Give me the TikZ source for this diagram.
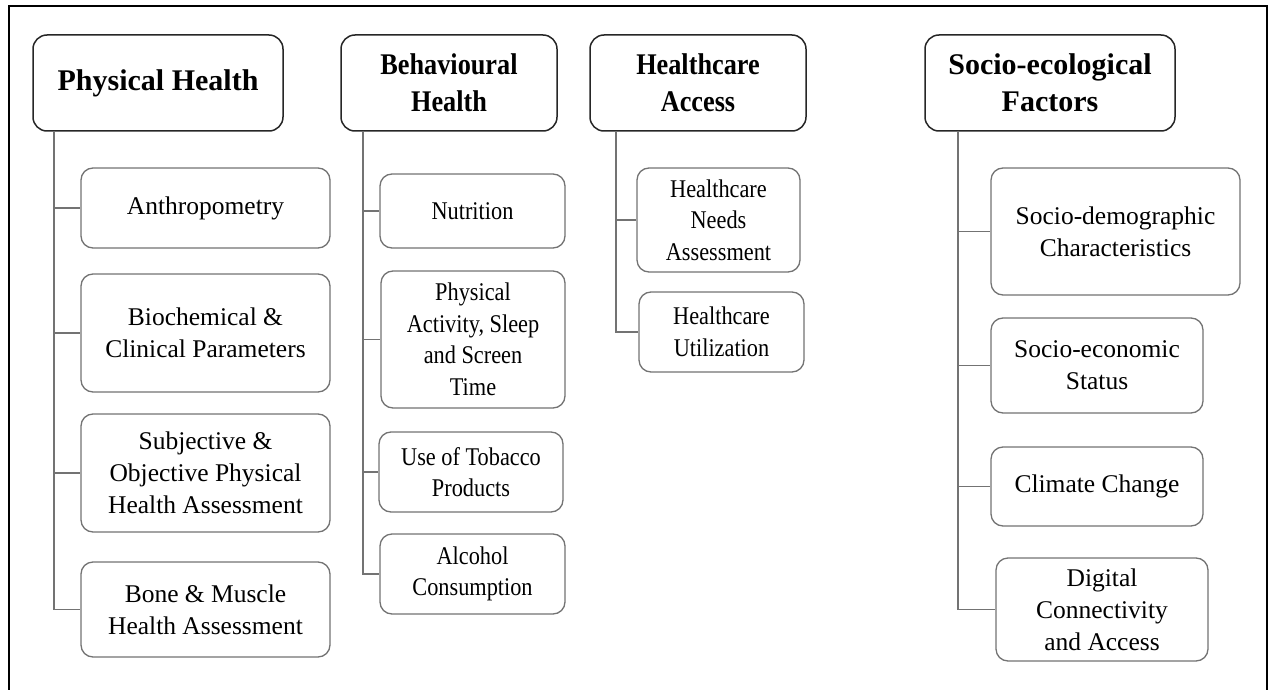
\documentclass[tikz,border=0pt]{standalone}
\usepackage{fontspec}
\setmainfont{Liberation Serif}
\newfontfamily\narrowserif[FakeStretch=0.875]{Liberation Serif}
\begin{document}
\begin{tikzpicture}[x=1pt,y=-1pt,
  head/.style={draw=black!85, line width=1.5pt, rounded corners=14pt, fill=white,
    align=center, inner sep=0pt, font=\fontsize{30}{37}\selectfont\bfseries},
  headsm/.style={head, font=\narrowserif\fontsize{30}{37}\selectfont\bfseries},
  sub/.style={draw=black!55, line width=1.3pt, rounded corners=12pt, fill=white,
    align=center, inner sep=0pt, font=\fontsize{25.5}{32}\selectfont},
  subsm/.style={sub, font=\narrowserif\fontsize{25.5}{31.5}\selectfont},
  conn/.style={draw=black!55, line width=1.3pt}]
\useasboundingbox (0,0) rectangle (1269,690);
\draw[line width=2.6pt] (9,6) rectangle (1267,720);

% headers
\node[head, minimum width=250pt, minimum height=96pt] (ph) at (158,83) {Physical Health};
\node[headsm, minimum width=216pt, minimum height=96pt] (bh) at (449,83) {Behavioural\\Health};
\node[headsm, minimum width=216pt, minimum height=96pt] (ha) at (698,83) {Healthcare\\Access};
\node[head, minimum width=250pt, minimum height=96pt] (sf) at (1050,83) {Socio-ecological\\Factors};

% physical health
\node[sub, minimum width=249pt, minimum height=80pt] (a1) at (205.5,208) {Anthropometry};
\node[sub, minimum width=249pt, minimum height=118pt] (a2) at (205.5,333) {Biochemical \&\\Clinical Parameters};
\node[sub, minimum width=249pt, minimum height=118pt] (a3) at (205.5,473) {Subjective \&\\Objective Physical\\Health Assessment};
\node[sub, minimum width=249pt, minimum height=95pt] (a4) at (205.5,609.5) {Bone \& Muscle\\Health Assessment};

% behavioural health
\node[subsm, minimum width=185pt, minimum height=74pt] (b1) at (472.5,211) {Nutrition};
\node[subsm, minimum width=184pt, minimum height=137pt] (b2) at (473,339.5) {Physical\\Activity, Sleep\\and Screen\\Time};
\node[subsm, minimum width=184pt, minimum height=80pt] (b3) at (471,472) {Use of Tobacco\\Products};
\node[subsm, minimum width=185pt, minimum height=80pt] (b4) at (472.5,574) {Alcohol\\Consumption};

% healthcare access
\node[subsm, minimum width=163pt, minimum height=104pt] (c1) at (718.5,220) {Healthcare\\Needs\\Assessment};
\node[subsm, minimum width=165pt, minimum height=80pt] (c2) at (721.5,332) {Healthcare\\Utilization};

% socio-ecological
\node[sub, minimum width=249pt, minimum height=127pt] (d1) at (1115.5,231.5) {Socio-demographic\\Characteristics};
\node[sub, minimum width=212pt, minimum height=95pt] (d2) at (1097,365.5) {Socio-economic\\Status};
\node[sub, minimum width=212pt, minimum height=79pt] (d3) at (1097,486.5) {Climate Change};
\node[sub, minimum width=212pt, minimum height=103pt] (d4) at (1102,609.5) {Digital\\Connectivity\\and Access};

% trunks
\coordinate (t1) at (54,131);
\coordinate (t2) at (363,131);
\coordinate (t3) at (616,131);
\coordinate (t4) at (958,131);

\foreach \c in {a1,a2,a3,a4} \draw[conn] (t1) |- (\c.west);
\foreach \c in {b1,b2,b3,b4} \draw[conn] (t2) |- (\c.west);
\foreach \c in {c1,c2} \draw[conn] (t3) |- (\c.west);
\foreach \c in {d1,d2,d3,d4} \draw[conn] (t4) |- (\c.west);
\end{tikzpicture}
\end{document}
